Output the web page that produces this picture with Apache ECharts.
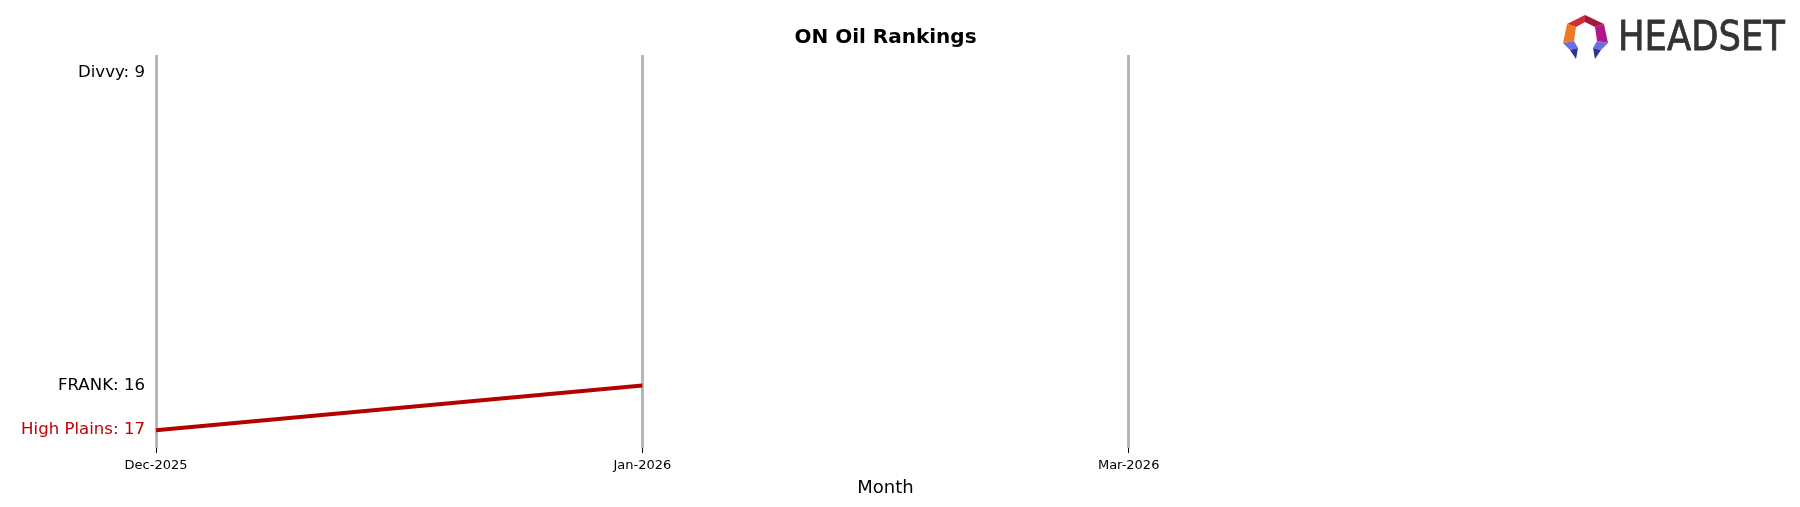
<!DOCTYPE html>
<html>
<head>
<meta charset="utf-8">
<script src="https://cdn.jsdelivr.net/npm/echarts@6/dist/echarts.min.js"></script>
<style>
html,body{margin:0;padding:0;background:#fff;}
#chart{width:1800px;height:507px;}
</style>
</head>
<body>
<div id="chart"></div>
<script>
// ---- data ----
const months = ['Dec-2025', 'Jan-2026', 'Mar-2026'];
const brandNames = ['Divvy', 'FRANK', 'High Plains'];
const divvyRanks = [9, null, null];
const frankRanks = [16, null, null];
const highPlainsRanks = [17, 16, null];
const titleText = 'ON Oil Rankings';
const xAxisTitle = 'Month';

// ---- styles ----
const RED = '#b50000';
const GRID_GRAY = '#b3b3b3';
const FONT = 'DejaVu Sans';

const axisSlots = months.concat(['']);
const showAt = (i) => i < months.length;

function makeSeries(name, ranks, color, labelColor, width) {
  return {
    name: name,
    type: 'line',
    data: ranks,
    showSymbol: true,
    symbol: 'circle',
    symbolSize: 0,
    connectNulls: false,
    lineStyle: { color: color, width: width },
    itemStyle: { color: color },
    emphasis: { disabled: true },
    silent: true,
    label: {
      show: true,
      position: 'left',
      distance: 11,
      offset: [0, 3.5],
      fontFamily: FONT,
      fontSize: 16.6,
      color: labelColor,
      formatter: (p) => p.dataIndex === 0 ? name + ': ' + p.value : ''
    },
    labelLayout: { hideOverlap: false },
    z: 3
  };
}

const chart = echarts.init(document.getElementById('chart'), null, { renderer: 'canvas' });
chart.setOption({
  animation: false,
  backgroundColor: '#ffffff',
  grid: { left: 156, right: 185, top: 55, bottom: 59 },
  xAxis: {
    type: 'category',
    data: axisSlots,
    boundaryGap: false,
    name: xAxisTitle,
    nameLocation: 'middle',
    nameGap: 31,
    nameTextStyle: { fontFamily: FONT, fontSize: 18, color: '#000' },
    axisLine: { show: false },
    axisTick: { show: true, length: 5, interval: (i) => showAt(i), lineStyle: { color: '#000', width: 1 } },
    axisLabel: { interval: 0, margin: 11, fontFamily: FONT, fontSize: 13, color: '#000' },
    splitLine: { show: true, interval: (i) => showAt(i), lineStyle: { color: GRID_GRAY, width: 2.8 } }
  },
  yAxis: {
    type: 'value',
    inverse: true,
    min: 8.6,
    max: 17.4,
    axisLine: { show: false },
    axisTick: { show: false },
    axisLabel: { show: false },
    splitLine: { show: false }
  },
  series: [
    makeSeries(brandNames[0], divvyRanks, '#7f7f7f', '#000', 3.5),
    makeSeries(brandNames[1], frankRanks, '#7f7f7f', '#000', 3.5),
    makeSeries(brandNames[2], highPlainsRanks, RED, '#c00000', 4)
  ],
  graphic: [
    {
      type: 'text', x: 885.5, y: 38,
      style: { text: titleText, fontFamily: FONT, fontSize: 20, fontWeight: 'bold', fill: '#000', align: 'center', verticalAlign: 'middle' }
    },
    {
      type: 'group', x: 1540, y: 0,
      children: [
        { type: 'polygon', shape: { points: [[45,15],[27,24],[36,27],[45,22]] }, style: { fill: '#d42a33' } },
        { type: 'polygon', shape: { points: [[45,15],[45,22],[55,27],[64,24]] }, style: { fill: '#a01a3e' } },
        { type: 'polygon', shape: { points: [[27,24],[23,43],[34,41],[36,27]] }, style: { fill: '#f07a24' } },
        { type: 'polygon', shape: { points: [[64,24],[55,27],[57,41],[68,43]] }, style: { fill: '#b3168c' } },
        { type: 'polygon', shape: { points: [[23,43],[34,41],[38,48],[30,50]] }, style: { fill: '#6c6ee0' } },
        { type: 'polygon', shape: { points: [[30,50],[38,48],[36,59]] }, style: { fill: '#283593' } },
        { type: 'polygon', shape: { points: [[68,43],[57,41],[53,48],[61,50]] }, style: { fill: '#6c6ee0' } },
        { type: 'polygon', shape: { points: [[61,50],[53,48],[55,59]] }, style: { fill: '#283593' } },
        {
          type: 'text', x: 78, y: 40, scaleX: 0.885,
          style: { text: 'HEADSET', fontFamily: FONT, fontSize: 40, fill: '#333333', stroke: '#333333', lineWidth: 0.8, align: 'left', verticalAlign: 'middle' }
        }
      ]
    }
  ]
});
</script>
</body>
</html>
